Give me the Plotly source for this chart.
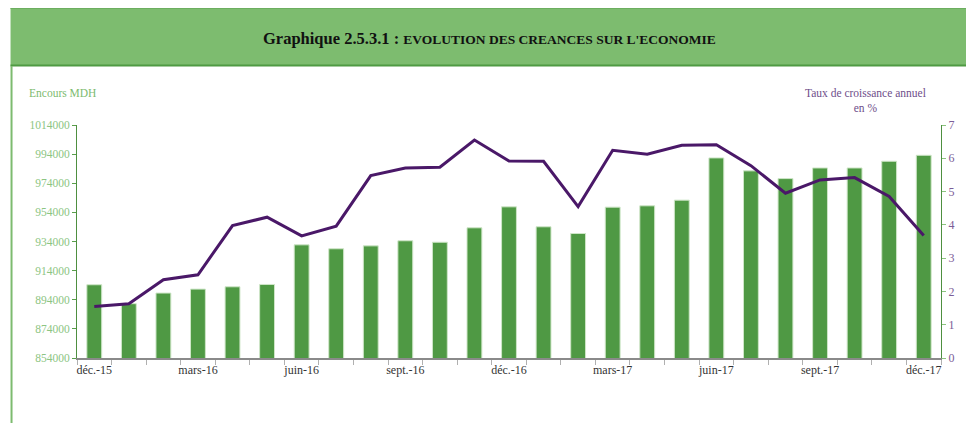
import plotly.graph_objects as go

months = ["déc.-15", "janv.-16", "févr.-16", "mars-16", "avr.-16", "mai-16", "juin-16",
          "juil.-16", "août-16", "sept.-16", "oct.-16", "nov.-16", "déc.-16", "janv.-17",
          "févr.-17", "mars-17", "avr.-17", "mai-17", "juin-17", "juil.-17", "août-17",
          "sept.-17", "oct.-17", "nov.-17", "déc.-17"]
tick_labels = [m if i % 3 == 0 else "" for i, m in enumerate(months)]

encours = [904300, 891300, 898600, 901300, 902900, 904500, 931700, 929000, 931000,
           934500, 933500, 943400, 957800, 944100, 939500, 957600, 958500, 962400,
           991400, 982500, 977200, 984500, 984500, 989100, 993200]
croissance = [1.55, 1.63, 2.35, 2.50, 3.98, 4.23, 3.67, 3.96, 5.48, 5.71, 5.73, 6.55,
              5.92, 5.91, 4.55, 6.24, 6.12, 6.39, 6.41, 5.78, 4.95, 5.35, 5.42, 4.85, 3.68]

left_ticks = list(range(854000, 1014001, 20000))
right_ticks = list(range(0, 8))

W, H = 966, 423
ML, MR, MT, MB = 77, 18, 125, 65
PW, PH = W - ML - MR, H - MT - MB


def px(x):
    return (x - ML) / PW


def py(y):
    return (H - MB - y) / PH


SERIF = "Liberation Serif, Times New Roman, serif"

fig = go.Figure()
fig.add_trace(go.Bar(
    x=months, y=encours, yaxis="y",
    marker=dict(color="#4F9944", line=dict(color="#cfe6c8", width=1)),
    name="Encours MDH",
))
fig.add_trace(go.Scatter(
    x=months, y=croissance, yaxis="y2", mode="lines",
    line=dict(color="#4A1868", width=3),
    name="Taux de croissance annuel",
))

shapes = [
    dict(type="rect", xref="paper", yref="paper", x0=px(10), x1=px(980), y0=py(66), y1=py(8),
         fillcolor="#7DBC6F", line=dict(width=0), layer="below"),
    dict(type="line", xref="paper", yref="paper", x0=px(10), x1=px(980), y0=py(8.5), y1=py(8.5),
         line=dict(color="#6CAE5F", width=1)),
    dict(type="line", xref="paper", yref="paper", x0=px(10), x1=px(980), y0=py(65.5), y1=py(65.5),
         line=dict(color="#4F9A43", width=2)),
    dict(type="line", xref="paper", yref="paper", x0=px(11), x1=px(11), y0=py(66), y1=py(440),
         line=dict(color="#7DBB6F", width=2)),
]

annotations = [
    dict(xref="paper", yref="paper", x=px(493), y=py(38), xanchor="center", yanchor="middle",
         showarrow=False,
         text="<b>Graphique 2.5.3.1 : </b><b><span style='font-size:13.5px'>EVOLUTION DES CREANCES SUR L'ECONOMIE</span></b>",
         font=dict(family=SERIF, size=16.5, color="#111111")),
    dict(xref="paper", yref="paper", x=px(27), y=py(93), xanchor="left", yanchor="middle",
         showarrow=False, text="Encours MDH",
         font=dict(family=SERIF, size=11.5, color="#7DBB6F")),
    dict(xref="paper", yref="paper", x=px(872), y=py(101), xanchor="center", yanchor="middle",
         showarrow=False, text="Taux de croissance annuel<br>en %", align="center",
         font=dict(family=SERIF, size=11.5, color="#6E4E8A")),
]

fig.update_layout(
    width=W, height=H,
    margin=dict(l=ML, r=MR, t=MT, b=MB, pad=0),
    paper_bgcolor="white", plot_bgcolor="white",
    showlegend=False,
    bargap=0.57,
    font=dict(family=SERIF, size=11.5),
    xaxis=dict(
        type="category", tickmode="array", tickvals=months, ticktext=tick_labels,
        tickson="boundaries", ticks="outside", ticklen=5, tickcolor="#b0b0b0",
        showline=True, linecolor="#8a8a8a", linewidth=1.5, showgrid=False,
        tickfont=dict(family=SERIF, size=12, color="#333333"), tickangle=0,
    ),
    yaxis=dict(
        range=[854000, 1014000], tickmode="array", tickvals=left_ticks,
        ticktext=[str(v) for v in left_ticks],
        ticks="outside", ticklen=4, tickcolor="#5A9E4B",
        showline=True, linecolor="#4E8F40", linewidth=1, showgrid=False, zeroline=False,
        tickfont=dict(family=SERIF, size=11.5, color="#8CC582"),
    ),
    yaxis2=dict(
        range=[0, 7], overlaying="y", side="right", tickmode="array", tickvals=right_ticks,
        ticks="outside", ticklen=4, tickcolor="#8CC47E",
        showline=True, linecolor="#4E8F40", linewidth=1, showgrid=False, zeroline=False,
        tickfont=dict(family=SERIF, size=12, color="#7B5C97"),
    ),
    shapes=shapes,
    annotations=annotations,
)

fig.write_html(
    "out.html",
    config={"displayModeBar": False},
    post_script="document.body.style.margin='0';document.body.style.overflow='hidden';",
)
